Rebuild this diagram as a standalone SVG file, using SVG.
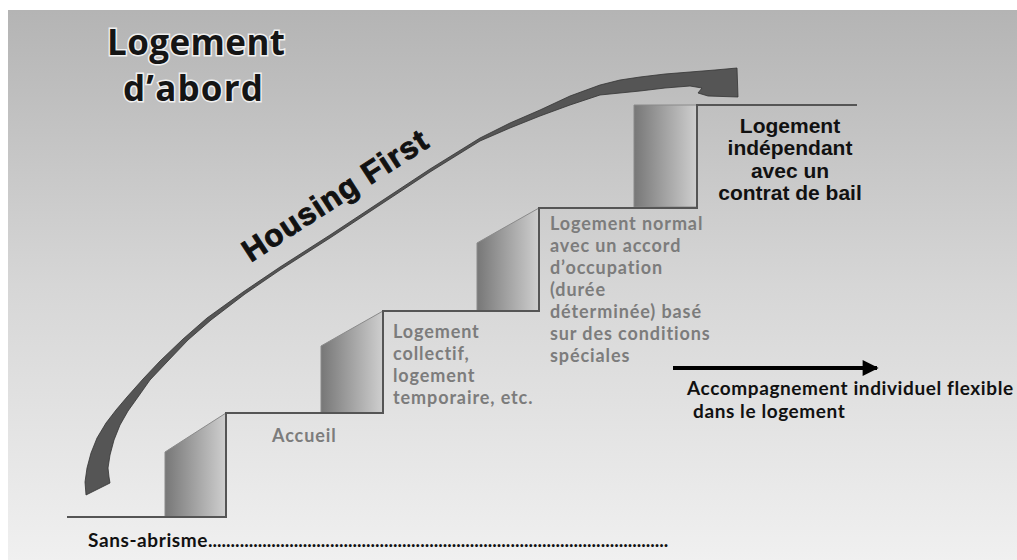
<svg xmlns="http://www.w3.org/2000/svg" width="1017" height="560" viewBox="0 0 1017 560">
<defs>
<linearGradient id="bg" x1="0" y1="0" x2="0" y2="1">
<stop offset="0" stop-color="#b4b4b4"/>
<stop offset="0.5" stop-color="#d6d6d6"/>
<stop offset="1" stop-color="#f0f0f0"/>
</linearGradient>
<linearGradient id="face" x1="0" y1="0" x2="1" y2="0">
<stop offset="0" stop-color="#777"/>
<stop offset="1" stop-color="#cfcfcf"/>
</linearGradient>
<marker id="ah" viewBox="0 0 10 10" refX="9" refY="5" markerWidth="4.5" markerHeight="4" orient="auto" markerUnits="strokeWidth">
<path d="M0,0 L10,5 L0,10 Z" fill="#000"/>
</marker>
</defs>
<style>
.title{font-family:"Open Sans",Lato,sans-serif;font-weight:bold;font-size:35px;fill:#151515;stroke:#f0f0f0;stroke-width:3px;paint-order:stroke;text-anchor:middle}
.hf{font-family:"Liberation Sans",Arial,sans-serif;font-weight:bold;font-size:31px;fill:#111;stroke:#111;stroke-width:0.9px;letter-spacing:1.2px}
.gray{font-family:Lato,"Open Sans",sans-serif;font-weight:bold;font-size:18px;fill:#7c7c7c;letter-spacing:0.9px}
.blk{font-family:Lato,"Open Sans",sans-serif;font-weight:bold;font-size:19px;fill:#111;letter-spacing:0.6px}
.top{font-family:"Liberation Sans",Arial,sans-serif;font-weight:bold;font-size:21px;fill:#111;text-anchor:middle}
.face{fill:url(#face);stroke:#8a8a8a;stroke-width:1}
.stair{fill:none;stroke:#555;stroke-width:2}
</style>
<rect x="0" y="0" width="1017" height="560" fill="#fff"/>
<rect x="8" y="10" width="1009" height="550" fill="url(#bg)"/>

<g id="stairs">
<polygon class="face" points="165,517 165,452 226,413 226,517"/>
<polygon class="face" points="321,413 321,346 383,311 383,413"/>
<polygon class="face" points="477,311 477,243 539,208 539,311"/>
<polygon class="face" points="634,207 634,105 697,105 697,207"/>
<path class="stair" d="M67,517 H226 V413 H383 V311 H539 V208 H697 V105 H857"/>
</g>

<g id="title">
<text class="title" x="196" y="55" textLength="178" lengthAdjust="spacing">Logement</text>
<text class="title" x="193" y="101" textLength="140" lengthAdjust="spacing">d’abord</text>
</g>

<g id="housing-first-arrow">
<path d="M86,495 L85,482 L87,468 L91,453 L97,438 L106,423 L116,410 L127,397 L143,379 L160,361 L183,339 L207,318 L243,292 L280,267 L330,235 L380,202 L430,169 L480,138 L510,123 L540,110 L570,96 L600,85 L620,80 L640,77 L665,74 L690,72 L715,70 L737,68 L738,97 L708,96 L698,93 L702,88 L690,86 L665,88 L640,91 L620,93 L600,95 L570,105 L540,116 L510,128 L480,141 L430,172 L380,205 L330,238 L280,270 L245,294 L211,320 L188,340 L167,362 L150,380 L138,397 L128,411 L120,425 L114,440 L110,455 L108,468 L109,477 L110,483 Z" fill="#555" stroke="#333" stroke-width="0.8" stroke-linejoin="round"/>
<text class="hf" x="341" y="204" text-anchor="middle" transform="rotate(-33 341 204)">Housing First</text>
</g>

<g id="step0">
<text class="blk" x="88" y="547">Sans-abrisme<tspan letter-spacing="0">......................................................................................................</tspan></text>
</g>
<g id="step1">
<text class="gray" x="272" y="442">Accueil</text>
</g>
<g id="step2">
<text class="gray" x="393" y="338">Logement</text>
<text class="gray" x="393" y="360">collectif,</text>
<text class="gray" x="393" y="382">logement</text>
<text class="gray" x="393" y="404">temporaire, etc.</text>
</g>
<g id="step3">
<text class="gray" x="550" y="230">Logement normal</text>
<text class="gray" x="550" y="252">avec un accord</text>
<text class="gray" x="550" y="274">d’occupation</text>
<text class="gray" x="550" y="296">(durée</text>
<text class="gray" x="550" y="318">déterminée) basé</text>
<text class="gray" x="550" y="340">sur des conditions</text>
<text class="gray" x="550" y="362">spéciales</text>
</g>
<g id="step4">
<text class="top" x="790" y="133">Logement</text>
<text class="top" x="790" y="155">indépendant</text>
<text class="top" x="790" y="178">avec un</text>
<text class="top" x="790" y="200">contrat de bail</text>
</g>

<g id="connectors">
<line x1="673" y1="368" x2="877" y2="368" stroke="#000" stroke-width="4" marker-end="url(#ah)"/>
</g>
<g id="support">
<text class="blk" x="687" y="395">Accompagnement individuel flexible</text>
<text class="blk" x="693" y="418">dans le logement</text>
</g>
</svg>
